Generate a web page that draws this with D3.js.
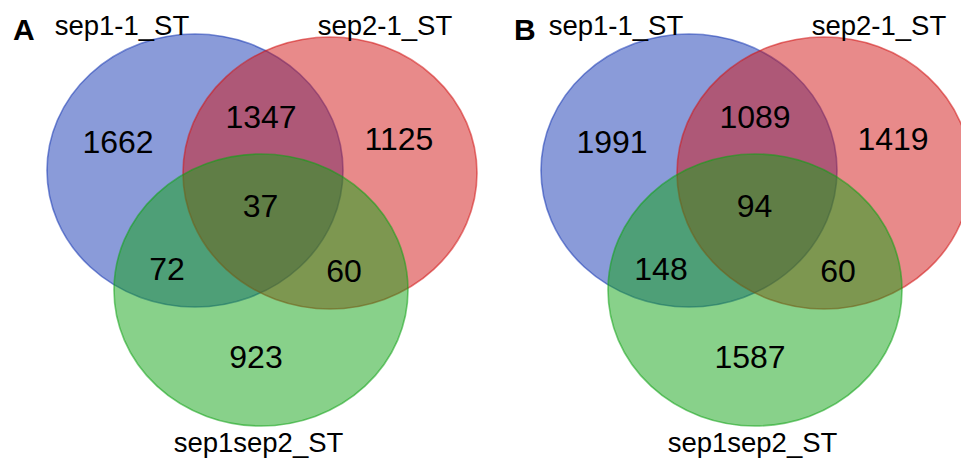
<!DOCTYPE html>
<html><head><meta charset="utf-8">
<script src="https://cdn.jsdelivr.net/npm/d3@7"></script>
<style>html,body{margin:0;padding:0;background:#fff;overflow:hidden}svg{display:block}</style>
</head><body>
<svg id="c" width="961" height="459"></svg>
<script>
// ---- data ----
const panels = ["A", "B"];
const sets = ["sep1-1_ST", "sep2-1_ST", "sep1sep2_ST"];
const regions = ["sep1-1 only", "sep1-1 & sep2-1", "sep2-1 only", "all three", "sep1-1 & sep1sep2", "sep2-1 & sep1sep2", "sep1sep2 only"];
const countsA = [1662, 1347, 1125, 37, 72, 60, 923];
const countsB = [1991, 1089, 1419, 94, 148, 60, 1587];

// ---- layout (unit coordinates of the venn layout, mapped through scales) ----
const setColors = ["#1537b3", "#d11515", "#11a315"];
const setGeom = [ {cx: 195, cy: 170.5, rx: 148, ry: 136.5},
                  {cx: 330, cy: 173, rx: 147, ry: 136},
                  {cx: 261, cy: 290, rx: 147, ry: 136} ];
const setLabelPos = [ {x: 122, y: 35}, {x: 385, y: 35}, {x: 258.5, y: 451.5} ];
const regionPos = [ {x: 118, y: 153}, {x: 261, y: 128}, {x: 399, y: 150}, {x: 260.5, y: 217},
                    {x: 167, y: 280}, {x: 344, y: 282}, {x: 256, y: 368} ];
const panelOffset = d3.scaleOrdinal().domain(panels).range([0, 494]);
const y = d3.scaleLinear().domain([0, 459]).range([0, 459]);

const svg = d3.select("#c");
const allCounts = {A: countsA, B: countsB};

panels.forEach(p => {
  const off = panelOffset(p);
  const x = d3.scaleLinear().domain([0, 961]).range([off, off + 961]);
  const g = svg.append("g");
  g.selectAll("ellipse").data(sets).enter().append("ellipse")
    .attr("cx", (d, i) => x(setGeom[i].cx))
    .attr("cy", (d, i) => y(setGeom[i].cy))
    .attr("rx", (d, i) => setGeom[i].rx)
    .attr("ry", (d, i) => setGeom[i].ry)
    .attr("fill", (d, i) => setColors[i])
    .attr("fill-opacity", 0.5)
    .attr("stroke", (d, i) => setColors[i])
    .attr("stroke-opacity", 0.55)
    .attr("stroke-width", 1.6);
  g.selectAll("text.cnt").data(allCounts[p]).enter().append("text")
    .attr("class", "cnt")
    .attr("x", (d, i) => x(regionPos[i].x))
    .attr("y", (d, i) => y(regionPos[i].y))
    .attr("text-anchor", "middle")
    .attr("font-family", "'Liberation Sans', Arial, sans-serif")
    .attr("font-size", 32)
    .attr("fill", "#000")
    .text(d => d);
  g.selectAll("text.lab").data(sets).enter().append("text")
    .attr("class", "lab")
    .attr("x", (d, i) => x(setLabelPos[i].x))
    .attr("y", (d, i) => y(setLabelPos[i].y))
    .attr("text-anchor", "middle")
    .attr("font-family", "'Liberation Sans', Arial, sans-serif")
    .attr("font-size", 27.5)
    .attr("fill", "#000")
    .text(d => d);
  g.append("text")
    .attr("x", x(p === "A" ? 13 : 20))
    .attr("y", y(39.5))
    .attr("font-family", "'Liberation Sans', Arial, sans-serif")
    .attr("font-weight", "bold")
    .attr("font-size", 30)
    .attr("fill", "#000")
    .text(p);
});
</script>
</body></html>
